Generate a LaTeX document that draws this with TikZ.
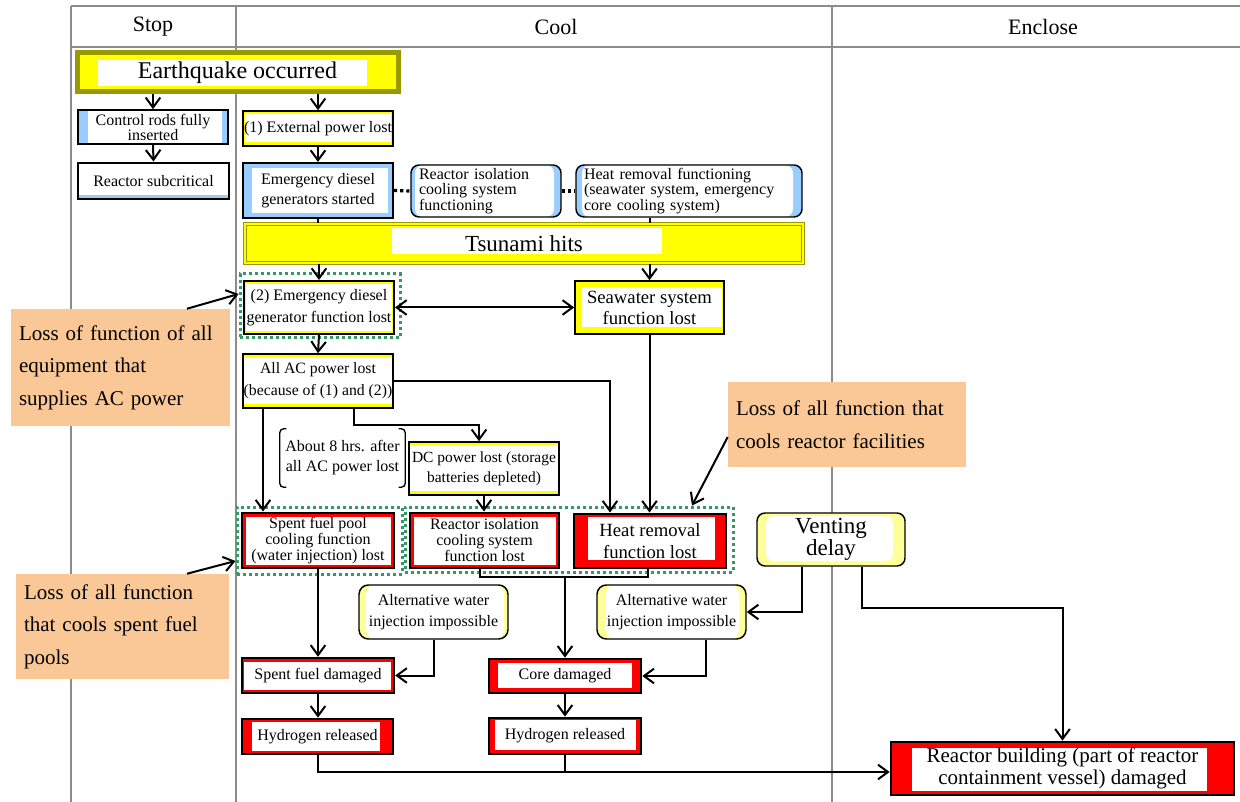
\documentclass[tikz,border=0pt]{standalone}
\usepackage{fontspec}
\setmainfont{Liberation Serif}
\usetikzlibrary{arrows.meta,calc}
\definecolor{cblue}{HTML}{99CCFF}
\definecolor{cyel}{HTML}{FFFF00}
\definecolor{clyel}{HTML}{FFFF99}
\definecolor{cred}{HTML}{FF0000}
\definecolor{colive}{HTML}{999900}
\definecolor{cgreen}{HTML}{339966}
\definecolor{cpeach}{HTML}{FAC896}
\definecolor{cgrid}{HTML}{8C8C8C}
\newcommand\mkbox[7]{\node[#6, minimum width={(#4-#2)*0.75pt}, minimum height={(#5-#3)*0.75pt}] (#1) at ({(#2+#4)/2},{(#3+#5)/2}) {#7};}
\tikzset{
  inset/.style n args={4}{path picture={\fill[white] ([xshift={#1*0.75pt},yshift={#4*0.75pt}]path picture bounding box.south west) rectangle ([xshift={-#2*0.75pt},yshift={-#3*0.75pt}]path picture bounding box.north east);}},
  bx/.style={rectangle, inner sep=0pt, align=center, text=black},
  sm/.style={font=\fontsize{12}{15}\selectfont},
  gframe/.style={rectangle, draw=cgreen, line width=2.25pt, dash pattern=on 2.25pt off 2.25pt, inner sep=0pt},
  callbox/.style={bx, fill=cpeach, align=left, inner xsep=6pt, font=\fontsize{15.75}{24.4}\selectfont},
  hdr/.style={inner sep=0pt, font=\fontsize{16.5}{18}\selectfont},
  gridline/.style={draw=cgrid, line width=1.5pt},
  ln/.style={draw=black, line width=1.5pt},
  arr/.style={ln, -{Straight Barb[length=7.5pt,width=11pt]}},
  dbl/.style={ln, {Straight Barb[length=7.5pt,width=11pt]}-{Straight Barb[length=7.5pt,width=11pt]}},
  dotcon/.style={draw=black, line width=2.4pt, dash pattern=on 2.4pt off 2.2pt},
  brk/.style={draw=black, line width=1pt, rounded corners=3pt},
}
\begin{document}
\begin{tikzpicture}[x=0.75pt,y=-0.75pt]
\useasboundingbox (0,0) rectangle (1240,802);
\fill[white] (0,0) rectangle (1240,802);
% grid
\draw[gridline] (71,6) -- (1240,6);
\draw[gridline] (71,47) -- (1240,47);
\draw[gridline] (71,6) -- (71,802);
\draw[gridline] (236,6) -- (236,802);
\draw[gridline] (832,6) -- (832,802);
\node[hdr] (hstop) at (153,27) {Stop};
\node[hdr] (hcool) at (556,27) {Cool};
\node[hdr] (hencl) at (1043,27) {Enclose};
% green frames
\mkbox{fr1}{240}{274}{400}{338}{gframe}{}
\mkbox{fr2}{237}{507}{402}{574}{gframe}{}
\mkbox{fr3}{405}{507}{733}{572}{gframe}{}
% nodes
\mkbox{eq}{77}{53}{398}{92}{bx, fill=cyel, draw=colive, line width=3.75pt, inset={21}{31}{7}{6}, font=\fontsize{18}{20}\selectfont}{Earthquake occurred}
\mkbox{ctrl}{78}{110}{228}{144}{bx, fill=cblue, draw=black, line width=1.2pt, inset={10}{6}{0}{0}, font=\fontsize{12}{11.25}\selectfont}{Control rods fully\\inserted}
\mkbox{subcrit}{78}{163}{229}{199}{bx, fill=cblue, draw=black, line width=2.2pt, inset={0}{0}{0}{3.5}, sm}{Reactor subcritical}
\mkbox{ext}{243}{111}{393}{146}{bx, fill=cyel, draw=black, line width=1.2pt, inset={2}{2}{3.5}{3.5}, sm}{(1) External power lost}
\mkbox{edg}{243}{163}{393}{218}{bx, fill=cblue, draw=black, line width=1.5pt, inset={9}{5}{5}{5}, sm}{Emergency diesel\\generators started}
\mkbox{rcf}{411}{165}{561}{217}{bx, fill=cblue, draw=black, line width=1.1pt, rounded corners=6pt, inset={4}{7}{0}{0}, align=left, inner xsep=6pt, text width={134*0.75pt}, font=\fontsize{12}{11.8}\selectfont}{Reactor isolation\\cooling system\\functioning}
\mkbox{hrf}{576}{165}{802}{217}{bx, fill=cblue, draw=black, line width=1.1pt, rounded corners=6pt, inset={6}{9}{0}{0}, align=left, inner xsep=6pt, text width={210*0.75pt}, font=\fontsize{12}{11.8}\selectfont}{Heat removal functioning\\(seawater system, emergency\\core cooling system)}
\mkbox{tsu}{245}{224}{803}{263}{bx, fill=cyel, draw=colive, line width=1pt, double=cyel, double distance=1.2pt, inset={147}{141}{4}{9}, font=\fontsize{17.25}{20}\selectfont}{Tsunami hits}
\mkbox{edl}{244}{281}{394}{334}{bx, fill=cyel, draw=black, line width=1.5pt, inset={2}{2}{3}{3}, font=\fontsize{12}{16.25}\selectfont}{(2) Emergency diesel\\generator function lost}
\mkbox{sea}{575}{281}{724}{334}{bx, fill=cyel, draw=black, line width=1.2pt, inset={7}{2}{6}{7}, font=\fontsize{14}{15.75}\selectfont}{Seawater system\\function lost}
\mkbox{acl}{243}{354}{393}{408}{bx, fill=cyel, draw=black, line width=1.2pt, inset={1}{1}{3}{4}, font=\fontsize{11.8}{16.25}\selectfont}{All AC power lost\\(because of (1) and (2))}
\mkbox{about}{280}{429}{405}{487}{bx, sm}{About 8 hrs. after\\all AC power lost}
\mkbox{dcl}{409}{442}{559}{495}{bx, fill=cyel, draw=black, line width=1.2pt, inset={1}{1}{3}{4}, font=\fontsize{11.6}{15}\selectfont}{DC power lost (storage\\batteries depleted)}
\mkbox{sfp}{242}{513}{394}{568}{bx, fill=cred, draw=black, line width=2.2pt, inset={3.5}{3.5}{3.5}{3.5}, font=\fontsize{12}{12}\selectfont}{Spent fuel pool\\cooling function\\(water injection) lost}
\mkbox{ril}{410}{513}{559}{568}{bx, fill=cred, draw=black, line width=2.2pt, inset={3.5}{3.5}{3.5}{3.5}, font=\fontsize{12}{12}\selectfont}{Reactor isolation\\cooling system\\function lost}
\mkbox{hrl}{574}{514}{726}{568}{bx, fill=cred, draw=black, line width=2.2pt, inset={14}{11}{3}{8}, font=\fontsize{14}{16.5}\selectfont}{Heat removal\\function lost}
\mkbox{vent}{757}{513}{905}{566}{bx, fill=clyel, draw=black, line width=1.1pt, rounded corners=6pt, inset={9}{12}{3}{5}, font=\fontsize{17.25}{16.5}\selectfont}{Venting\\delay}
\mkbox{altL}{359}{585}{508}{639}{bx, fill=clyel, draw=black, line width=1.1pt, rounded corners=7pt, inset={7}{4}{0}{0}, font=\fontsize{12}{16}\selectfont}{Alternative water\\injection impossible}
\mkbox{altR}{597}{585}{746}{639}{bx, fill=clyel, draw=black, line width=1.1pt, rounded corners=7pt, inset={9}{7}{0}{0}, font=\fontsize{12}{16}\selectfont}{Alternative water\\injection impossible}
\mkbox{sfd}{242}{658}{394}{693}{bx, fill=cred, draw=black, line width=1.8pt, inset={2}{3}{3.5}{3.5}, sm}{Spent fuel damaged}
\mkbox{cored}{489}{659}{641}{693}{bx, fill=cred, draw=black, line width=2pt, inset={9}{9}{4}{5}, sm}{Core damaged}
\mkbox{h2l}{242}{719}{393}{754}{bx, fill=cred, draw=black, line width=2pt, inset={10}{13}{3}{3}, sm}{Hydrogen released}
\mkbox{h2m}{489}{718}{641}{754}{bx, fill=cred, draw=black, line width=2pt, inset={6}{5}{2}{4}, sm}{Hydrogen released}
\mkbox{rb}{891}{742}{1234}{795}{bx, fill=cred, draw=black, line width=2pt, inset={21}{27}{6}{4}, font=\fontsize{15.75}{16.5}\selectfont}{Reactor building (part of reactor\\containment vessel) damaged}
% callouts
\mkbox{callA}{11}{309}{230}{426}{callbox, text width={203*0.75pt}}{Loss of function of all\\equipment that\\supplies AC power}
\mkbox{callB}{16}{574}{229}{679}{callbox, text width={197*0.75pt}}{Loss of all function\\that cools spent fuel\\pools}
\mkbox{callC}{728}{382}{966}{467}{callbox, text width={222*0.75pt}}{Loss of all function that\\cools reactor facilities}
% bracket
\draw[brk] ([xshift=5pt]about.north west) -- (about.north west) -- (about.south west) -- ([xshift=5pt]about.south west);
\draw[brk] ([xshift=-5pt]about.north east) -- (about.north east) -- (about.south east) -- ([xshift=-5pt]about.south east);
% connectors
\draw[arr] (ctrl.north|-eq.south) -- (ctrl.north);
\draw[arr] (ext.north|-eq.south) -- (ext.north);
\draw[arr] (ctrl.south) -- (subcrit.north);
\draw[arr] (ext.south) -- (edg.north);
\draw[dotcon] (edg.east) -- (rcf.west);
\draw[dotcon] (rcf.east) -- (hrf.west);
\draw[ln] (edg.south) -- (edg.south|-tsu.north);
\draw[ln] (hrf.south-|sea.north) -- (tsu.north-|sea.north);
\draw[arr] (tsu.south-|edl.north) -- (edl.north);
\draw[arr] (tsu.south-|sea.north) -- (sea.north);
\draw[dbl] (edl.east) -- (sea.west);
\draw[arr] (edl.south) -- (acl.north);
\draw[arr] (acl.east) -| (610,0|-hrl.north);
\draw[arr] (263,0|-acl.south) -- (263,0|-sfp.north);
\draw[arr] (354,0|-acl.south) -- (354,425) -| (479,0|-dcl.north);
\draw[arr] (dcl.south) -- (dcl.south|-ril.north);
\draw[arr] (sea.south) -- (sea.south|-hrl.north);
\draw[ln] (480,0|-ril.south) -- (480,577) -| (648,0|-hrl.south);
\draw[arr] (cored.north|-0,577) -- (cored.north);
\draw[arr] (sfp.south) -- (sfp.south|-sfd.north);
\draw[arr] (altL.south) |- (sfd.east);
\draw[arr] (706,0|-altR.south) |- (cored.east);
\draw[arr] (802,0|-vent.south) |- (altR.east);
\draw[arr] (862,0|-vent.south) -- (862,608) -| (rb.north);
\draw[arr] (sfd.south) -- (sfd.south|-h2l.north);
\draw[arr] (cored.south) -- (h2m.north);
\draw[ln] (h2m.south) -- (h2m.south|-0,772);
\draw[arr] (h2l.south) -- (h2l.south|-0,772) -- (rb.west|-0,772);
% callout arrows
\draw[arr] (187,0|-callA.north) -- (fr1.west|-0,294);
\draw[arr] (187,0|-callB.north) -- (fr2.west|-0,561);
\draw[arr] (callC.west|-0,437) -- (692,0|-fr3.north);
\end{tikzpicture}
\end{document}
